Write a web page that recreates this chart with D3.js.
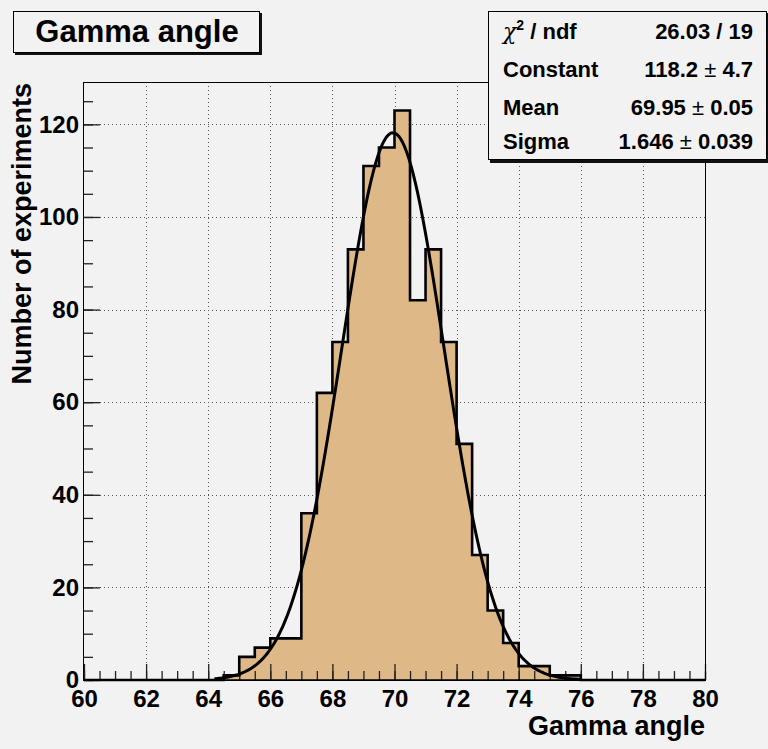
<!DOCTYPE html>
<html>
<head>
<meta charset="utf-8">
<script src="https://cdn.jsdelivr.net/npm/d3@7"></script>
<style>
  body { margin: 0; background: #f2f2f2; }
  svg { display: block; font-family: "Liberation Sans", Arial, sans-serif; }
  .lbl { font-weight: bold; fill: #000; }
</style>
</head>
<body>
<div id="chart"></div>
<script>
// histogram: 40 bins of width 0.5 from 60 to 80
const binLow = d3.range(60, 80, 0.5);
const counts = [0, 0, 0, 0, 0, 0, 0, 0, 0, 1,
  5, 7, 9, 9, 36, 62, 73, 93, 111, 115,
  123, 82, 93, 73, 51, 27, 15, 8, 3, 3,
  1, 1, 0, 0, 0, 0, 0, 0, 0, 0];
const binWidth = 0.5;

// gaussian fit parameters (from the stats box)
const fitConstant = 118.2;
const fitMean = 69.95;
const fitSigma = 1.646;
const fitRange = [64.2, 76];

const xTicks = d3.range(60, 81, 2);
const xMinor = d3.range(60, 80.1, 0.5);
const yTicks = d3.range(0, 121, 20);
const yMinor = d3.range(0, 126, 5);

const statsRows = [
  ["Constant", "118.2", "4.7"],
  ["Mean", "69.95", "0.05"],
  ["Sigma", "1.646", "0.039"]
];

const W = 768, H = 749;
const plotL = 84, plotR = 705, plotT = 82, plotB = 680;

const svg = d3.select("#chart").append("svg")
  .attr("width", W).attr("height", H);

svg.append("rect").attr("width", W).attr("height", H).attr("fill", "#f2f2f2");

const x = d3.scaleLinear().domain([60, 80]).range([plotL, plotR]);
const y = d3.scaleLinear().domain([0, 129.15]).range([plotB, plotT]);

// dotted grid
const grid = svg.append("g").attr("stroke", "#555").attr("stroke-width", 1)
  .attr("stroke-dasharray", "1,3");
grid.selectAll(".gx").data(xTicks.slice(1, -1)).enter().append("line")
  .attr("x1", d => Math.round(x(d)) + 0.5).attr("x2", d => Math.round(x(d)) + 0.5)
  .attr("y1", plotT).attr("y2", plotB);
grid.selectAll(".gy").data(yTicks.slice(1)).enter().append("line")
  .attr("y1", d => Math.round(y(d)) + 0.5).attr("y2", d => Math.round(y(d)) + 0.5)
  .attr("x1", plotL).attr("x2", plotR);

// step outline of the histogram
const steps = [[60, 0]];
counts.forEach((c, i) => {
  steps.push([binLow[i], c]);
  steps.push([binLow[i] + binWidth, c]);
});
steps.push([80, 0]);

svg.append("path")
  .datum(steps)
  .attr("fill", "#deb887")
  .attr("d", d3.area().x(d => x(d[0])).y0(y(0)).y1(d => y(d[1])));

// axes (ticks inside the frame)
const fmt = d3.format("d");
function styleAxis(g) {
  g.select(".domain").remove();
  g.selectAll(".tick line").attr("stroke", "#222").attr("stroke-width", 1.3);
  g.selectAll(".tick text").attr("class", "lbl").style("font-size", "24px")
    .style("font-family", "'Liberation Sans', Arial, sans-serif").attr("fill", "#000");
}
svg.append("g").attr("transform", `translate(0,${plotB})`)
  .call(d3.axisBottom(x).tickValues(xMinor).tickSize(-9).tickFormat(""))
  .call(styleAxis);
svg.append("g").attr("transform", `translate(0,${plotB})`)
  .call(d3.axisBottom(x).tickValues(xTicks).tickSize(-16).tickPadding(10).tickFormat(fmt))
  .call(styleAxis);
svg.append("g").attr("transform", `translate(${plotL},0)`)
  .call(d3.axisLeft(y).tickValues(yMinor).tickSize(-9).tickFormat(""))
  .call(styleAxis);
svg.append("g").attr("transform", `translate(${plotL},0)`)
  .call(d3.axisLeft(y).tickValues(yTicks).tickSize(-16).tickPadding(5).tickFormat(fmt))
  .call(styleAxis);

// histogram outline
svg.append("path")
  .datum(steps)
  .attr("fill", "none").attr("stroke", "#000").attr("stroke-width", 2.6)
  .attr("d", d3.line().x(d => x(d[0])).y(d => y(d[1])));

// fit curve
const fitPts = d3.range(fitRange[0], fitRange[1] + 0.001, 0.05).map(v =>
  [v, fitConstant * Math.exp(-0.5 * Math.pow((v - fitMean) / fitSigma, 2))]);
svg.append("path")
  .datum(fitPts)
  .attr("fill", "none").attr("stroke", "#000").attr("stroke-width", 3)
  .attr("d", d3.line().x(d => x(d[0])).y(d => y(d[1])));

// frame
svg.append("rect")
  .attr("x", plotL - 0.5).attr("y", plotT + 0.5)
  .attr("width", plotR - plotL + 1).attr("height", plotB - plotT)
  .attr("fill", "none").attr("stroke", "#000").attr("stroke-width", 1);
svg.append("line").attr("x1", plotL).attr("x2", plotR + 1)
  .attr("y1", plotB).attr("y2", plotB).attr("stroke", "#000").attr("stroke-width", 1.5);

// axis titles
svg.append("text").attr("class", "lbl")
  .attr("x", plotR).attr("y", 735).attr("text-anchor", "end")
  .style("font-size", "27px").text("Gamma angle");
svg.append("text").attr("class", "lbl")
  .attr("transform", `translate(31,${plotT + 1}) rotate(-90)`)
  .attr("text-anchor", "end")
  .style("font-size", "27px").text("Number of experiments");

// title box
svg.append("rect").attr("x", 15).attr("y", 13).attr("width", 247).attr("height", 42)
  .attr("fill", "#111");
svg.append("rect").attr("x", 13.5).attr("y", 11.5).attr("width", 246).attr("height", 41)
  .attr("fill", "#f2f2f2").attr("stroke", "#000").attr("stroke-width", 1);
svg.append("text").attr("class", "lbl")
  .attr("x", 137).attr("y", 42).attr("text-anchor", "middle")
  .style("font-size", "31px").text("Gamma angle");

// stats box
svg.append("rect").attr("x", 490).attr("y", 13).attr("width", 280).attr("height", 150)
  .attr("fill", "#111");
svg.append("rect").attr("x", 488.5).attr("y", 11.5).attr("width", 278).attr("height", 148)
  .attr("fill", "#f2f2f2").attr("stroke", "#000").attr("stroke-width", 1);

const statX0 = 503, statX1 = 753;
const chi = svg.append("text").attr("class", "lbl").attr("x", statX0).attr("y", 39)
  .style("font-size", "22px");
chi.append("tspan").style("font-weight", "normal").style("font-family", "'DejaVu Serif', serif")
  .style("font-style", "italic").text("χ");
chi.append("tspan").attr("dy", -9).style("font-size", "14px").text("2");
chi.append("tspan").attr("dy", 9).text(" / ndf");
svg.append("text").attr("class", "lbl").attr("x", statX1).attr("y", 39)
  .attr("text-anchor", "end").style("font-size", "22px").text("26.03 / 19");

const rowY = [77, 115, 149];
statsRows.forEach((r, i) => {
  svg.append("text").attr("class", "lbl").attr("x", statX0).attr("y", rowY[i])
    .style("font-size", "22px").text(r[0]);
  const t = svg.append("text").attr("class", "lbl").attr("x", statX1).attr("y", rowY[i])
    .attr("text-anchor", "end").style("font-size", "22px");
  t.append("tspan").text(r[1]);
  t.append("tspan").style("font-weight", "normal").text(" ± ");
  t.append("tspan").text(r[2]);
});
</script>
</body>
</html>
